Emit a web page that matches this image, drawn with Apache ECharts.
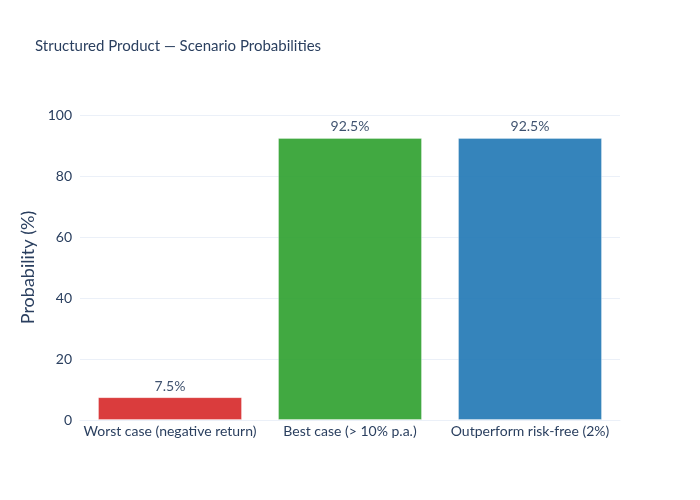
<!DOCTYPE html>
<html>
<head>
<meta charset="utf-8">
<script src="https://cdn.jsdelivr.net/npm/echarts@6/dist/echarts.min.js"></script>
<style>
html,body{margin:0;padding:0;background:#fff;}
#chart{width:700px;height:500px;}
</style>
</head>
<body>
<div id="chart"></div>
<script>
const categories = ["Worst case (negative return)", "Best case (> 10% p.a.)", "Outperform risk-free (2%)"];
const probabilities = [7.5, 92.5, 92.5];
const barColors = ["#d62728", "#2ca02c", "#1f77b4"];
const yTicks = [0, 20, 40, 60, 80, 100];

const FONT = "'Source Sans Pro', Lato, 'Noto Sans', sans-serif";
const TXT = "#2a3f5f";

const chart = echarts.init(document.getElementById('chart'));
chart.setOption({
  backgroundColor: '#fff',
  animation: false,
  title: {
    text: "Structured Product — Scenario Probabilities",
    left: 30, top: 34,
    textStyle: {fontFamily: FONT, fontSize: 15, fontWeight: 'normal', color: TXT}
  },
  grid: {left: 80, right: 80, top: 115, bottom: 80, containLabel: false},
  xAxis: {
    type: 'category',
    data: categories,
    axisLine: {show: true, lineStyle: {color: '#ebf0f8', width: 1}},
    axisTick: {show: false},
    axisLabel: {fontFamily: FONT, fontSize: 14, color: TXT, margin: 4, interval: 0}
  },
  yAxis: {
    type: 'value',
    min: 0, max: 100, interval: 20,
    name: 'Probability (%)',
    nameLocation: 'middle',
    nameGap: 38,
    nameTextStyle: {fontFamily: FONT, fontSize: 18, color: TXT},
    axisLine: {show: false},
    axisTick: {show: false},
    splitLine: {lineStyle: {color: '#ebf0f8', width: 1}},
    axisLabel: {fontFamily: FONT, fontSize: 14, color: TXT, margin: 8,
      formatter: v => yTicks.includes(v) ? String(v) : ''}
  },
  series: [{
    type: 'bar',
    barWidth: '80%',
    data: probabilities.map((v, i) => ({
      value: v,
      itemStyle: {color: barColors[i], opacity: 0.9, borderColor: 'rgba(255,255,255,0.35)', borderWidth: 1}
    })),
    label: {
      show: true, position: 'top', distance: 4,
      formatter: p => p.value.toFixed(1) + '%',
      fontFamily: FONT, fontSize: 14, color: TXT
    }
  }]
});
</script>
</body>
</html>
